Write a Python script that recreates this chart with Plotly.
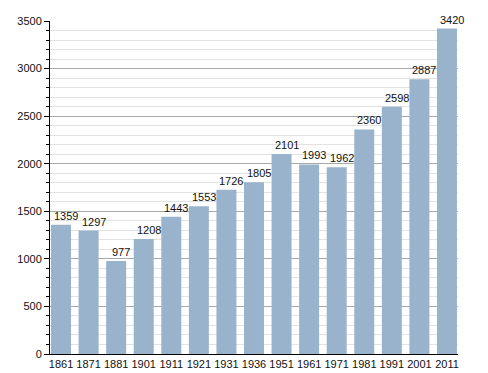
import plotly.graph_objects as go

years = ["1861", "1871", "1881", "1901", "1911", "1921", "1931", "1936", "1951", "1961", "1971", "1981", "1991", "2001", "2011"]
population = [1359, 1297, 977, 1208, 1443, 1553, 1726, 1805, 2101, 1993, 1962, 2360, 2598, 2887, 3420]

fig = go.Figure(go.Bar(
    x=years, y=population,
    marker=dict(color="#9ab3cd", line=dict(width=0)),
    cliponaxis=False,
))

# value labels, slightly offset to the right as in the reference
for i, v in enumerate(population):
    fig.add_annotation(
        x=i, y=v, xref="x", yref="y", text=str(v), showarrow=False,
        xanchor="center", yanchor="bottom", xshift=5, yshift=1,
        font=dict(family="Liberation Sans, Arial, sans-serif", size=11, color="#111"),
    )

# page body has an 8px default margin, so the figure is sized to fit the window
fig.update_layout(
    width=480, height=365,
    margin=dict(l=42, r=30, t=13, b=19, autoexpand=False),
    paper_bgcolor="white", plot_bgcolor="white",
    bargap=0.275,
    showlegend=False,
    font=dict(family="Liberation Sans, Arial, sans-serif", size=11, color="#111"),
)
fig.update_xaxes(
    type="category", range=[-0.4, 14.4], automargin=False,
    showline=True, linecolor="black", linewidth=1,
    ticks="", tickfont=dict(size=11), showgrid=False,
)
fig.update_yaxes(
    range=[0, 3500], dtick=500, automargin=False,
    showline=True, linecolor="black", linewidth=1,
    ticks="outside", ticklen=5, tickcolor="black", tickfont=dict(size=11),
    showgrid=True, gridcolor="#a8a8a8", gridwidth=1, zeroline=False,
    minor=dict(dtick=100, ticks="outside", ticklen=3, tickcolor="black",
               showgrid=True, gridcolor="#e2e2e2", gridwidth=1),
)

fig.write_html("out.html")
